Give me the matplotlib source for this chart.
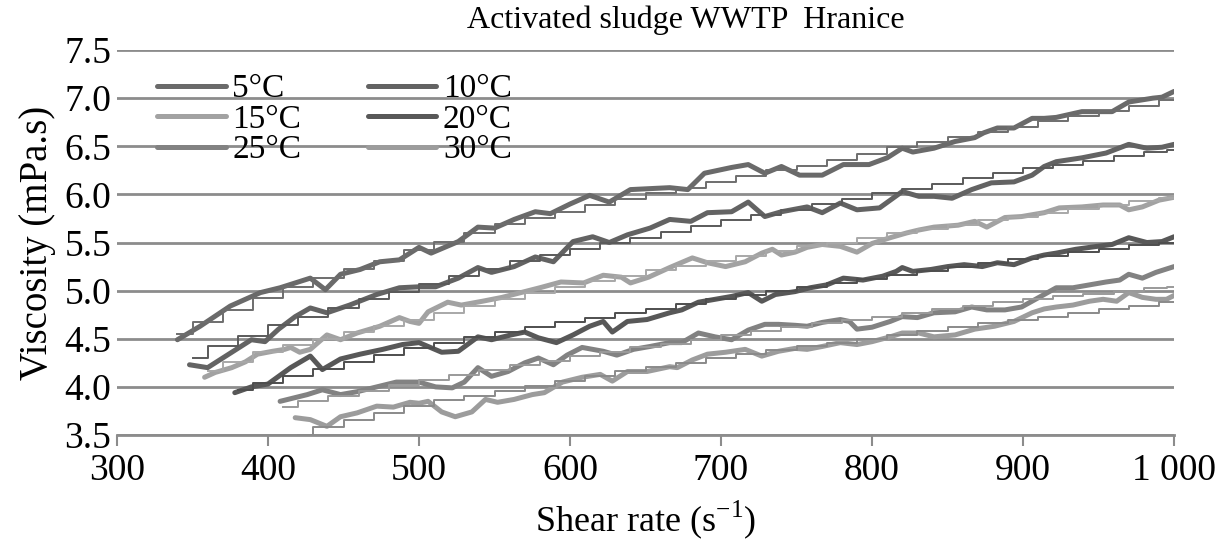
import matplotlib
matplotlib.use("Agg")
import matplotlib.pyplot as plt

plt.rcParams['font.family'] = ['Liberation Serif', 'DejaVu Serif']
plt.rcParams['mathtext.fontset'] = 'custom'
plt.rcParams['mathtext.rm'] = 'Liberation Serif'

# measured viscosity curves (shear rate, mPa.s)
x_5 = [340, 355, 375, 395, 408, 414, 428, 438, 448, 461, 474, 487, 500, 508, 526, 539, 550, 563,
       577, 587, 600, 613, 626, 640, 666, 678, 689, 707, 718, 729, 740, 752, 767, 781, 798, 810,
       820, 827, 841, 855, 868, 874, 883, 894, 906, 914, 922, 939, 959, 970, 986, 992, 1000]
y_5 = [4.49, 4.63, 4.84, 4.98, 5.03, 5.06, 5.13, 5.01, 5.17, 5.22, 5.30, 5.32, 5.45, 5.39, 5.51, 5.66, 5.65, 5.74,
       5.82, 5.80, 5.90, 5.99, 5.92, 6.05, 6.07, 6.05, 6.22, 6.28, 6.31, 6.22, 6.29, 6.20, 6.20, 6.31, 6.31, 6.38,
       6.48, 6.44, 6.48, 6.55, 6.59, 6.64, 6.69, 6.69, 6.79, 6.79, 6.80, 6.86, 6.86, 6.96, 7.00, 7.01, 7.07]

x_10 = [348, 360, 376, 389, 398, 407, 418, 428, 439, 454, 472, 487, 500, 511, 526, 539, 548, 563,
        577, 589, 602, 615, 626, 638, 653, 666, 680, 691, 707, 718, 729, 740, 757, 767, 779, 790,
        805, 820, 831, 841, 853, 866, 879, 894, 906, 914, 922, 939, 955, 970, 982, 992, 1000]
y_10 = [4.23, 4.20, 4.36, 4.49, 4.47, 4.60, 4.73, 4.82, 4.77, 4.85, 4.96, 5.03, 5.04, 5.04, 5.13, 5.24, 5.19, 5.25,
        5.35, 5.30, 5.51, 5.56, 5.50, 5.58, 5.65, 5.74, 5.72, 5.81, 5.82, 5.92, 5.77, 5.82, 5.87, 5.81, 5.91, 5.84,
        5.86, 6.03, 5.98, 5.98, 5.96, 6.05, 6.12, 6.13, 6.20, 6.29, 6.34, 6.38, 6.43, 6.52, 6.48, 6.49, 6.52]

x_15 = [358, 365, 376, 385, 393, 403, 411, 415, 421, 428, 439, 448, 459, 474, 487, 494, 500, 506,
        519, 528, 542, 555, 570, 580, 594, 609, 622, 634, 640, 652, 666, 681, 691, 703, 716, 727,
        734, 740, 749, 757, 767, 779, 790, 800, 812, 823, 831, 841, 857, 868, 876, 888, 899, 914,
        924, 939, 953, 964, 970, 979, 990, 1000]
y_15 = [4.10, 4.15, 4.20, 4.26, 4.34, 4.37, 4.39, 4.41, 4.36, 4.39, 4.54, 4.49, 4.56, 4.63, 4.72, 4.68, 4.66, 4.78,
        4.88, 4.85, 4.89, 4.93, 4.99, 5.03, 5.09, 5.08, 5.16, 5.14, 5.08, 5.14, 5.24, 5.34, 5.29, 5.25, 5.30, 5.39,
        5.43, 5.37, 5.40, 5.45, 5.48, 5.46, 5.40, 5.49, 5.55, 5.60, 5.63, 5.66, 5.68, 5.72, 5.66, 5.76, 5.77, 5.81,
        5.86, 5.87, 5.89, 5.89, 5.84, 5.87, 5.94, 5.97]

x_20 = [378, 389, 400, 415, 428, 436, 448, 461, 476, 489, 500, 506, 515, 526, 539, 548, 561, 570,
        579, 591, 602, 613, 622, 628, 638, 651, 666, 674, 685, 696, 707, 718, 727, 736, 749, 759,
        770, 781, 794, 807, 816, 820, 827, 839, 850, 861, 873, 883, 894, 906, 914, 922, 935, 949,
        959, 970, 982, 992, 1000]
y_20 = [3.94, 4.00, 4.03, 4.20, 4.32, 4.18, 4.29, 4.34, 4.39, 4.44, 4.46, 4.42, 4.36, 4.37, 4.52, 4.49, 4.54, 4.57,
        4.51, 4.46, 4.54, 4.63, 4.68, 4.57, 4.68, 4.70, 4.77, 4.80, 4.88, 4.91, 4.94, 4.98, 4.89, 4.96, 4.99, 5.03,
        5.06, 5.13, 5.11, 5.15, 5.20, 5.24, 5.20, 5.22, 5.25, 5.27, 5.25, 5.29, 5.27, 5.34, 5.37, 5.39, 5.43, 5.46,
        5.48, 5.55, 5.50, 5.51, 5.56]

x_25 = [408, 426, 436, 448, 459, 472, 485, 500, 511, 522, 530, 539, 548, 559, 570, 579, 589, 598,
        608, 622, 631, 642, 653, 666, 674, 685, 696, 707, 718, 729, 738, 749, 757, 767, 779, 785,
        790, 800, 812, 820, 830, 841, 855, 866, 876, 888, 899, 914, 922, 933, 944, 955, 964, 970,
        979, 988, 1000]
y_25 = [3.85, 3.92, 3.97, 3.92, 3.95, 4.00, 4.05, 4.05, 4.00, 3.99, 4.05, 4.20, 4.11, 4.16, 4.25, 4.30, 4.23, 4.33,
        4.41, 4.37, 4.33, 4.39, 4.42, 4.46, 4.46, 4.56, 4.52, 4.49, 4.59, 4.65, 4.65, 4.64, 4.63, 4.67, 4.70, 4.68,
        4.60, 4.62, 4.68, 4.73, 4.72, 4.77, 4.78, 4.83, 4.80, 4.80, 4.83, 4.96, 5.03, 5.03, 5.06, 5.09, 5.11, 5.17,
        5.13, 5.19, 5.25]

x_30 = [418, 428, 439, 448, 459, 472, 483, 494, 500, 506, 515, 524, 535, 544, 552, 563, 575, 583,
        595, 608, 620, 628, 638, 651, 666, 671, 681, 691, 703, 716, 727, 738, 749, 757, 767, 779,
        790, 800, 812, 820, 831, 841, 855, 868, 881, 894, 906, 914, 922, 933, 944, 953, 962, 970,
        979, 988, 995, 1000]
y_30 = [3.68, 3.66, 3.59, 3.69, 3.73, 3.80, 3.79, 3.84, 3.83, 3.85, 3.74, 3.69, 3.74, 3.87, 3.84, 3.87, 3.92, 3.94,
        4.05, 4.10, 4.13, 4.06, 4.16, 4.16, 4.21, 4.20, 4.28, 4.34, 4.36, 4.39, 4.32, 4.37, 4.40, 4.39, 4.42, 4.46,
        4.44, 4.47, 4.52, 4.56, 4.56, 4.52, 4.54, 4.60, 4.63, 4.68, 4.77, 4.81, 4.83, 4.85, 4.89, 4.91, 4.89, 4.98,
        4.93, 4.91, 4.91, 4.95]

# fitted model curves (thin stepped lines)
fx_5 = [340, 360, 380, 400, 420, 440, 460, 480, 500, 520, 540, 560, 580, 600, 620, 640, 660, 680,
        700, 720, 740, 760, 780, 800, 820, 840, 860, 880, 900, 920, 940, 960, 980, 1000]
fy_5 = [4.55, 4.67, 4.80, 4.92, 5.04, 5.13, 5.22, 5.31, 5.42, 5.51, 5.60, 5.69, 5.76, 5.82, 5.89, 5.95, 6.01, 6.07,
        6.13, 6.19, 6.25, 6.30, 6.36, 6.42, 6.49, 6.54, 6.60, 6.65, 6.70, 6.76, 6.81, 6.87, 6.92, 6.98]

fx_10 = [350, 370, 390, 410, 430, 450, 470, 490, 510, 530, 550, 570, 590, 610, 630, 650, 670, 690,
         710, 730, 750, 770, 790, 810, 830, 850, 870, 890, 910, 930, 950, 970, 990, 1000]
fy_10 = [4.30, 4.42, 4.53, 4.64, 4.73, 4.82, 4.91, 4.99, 5.07, 5.15, 5.23, 5.31, 5.37, 5.43, 5.49, 5.55, 5.61, 5.67,
         5.73, 5.79, 5.84, 5.90, 5.95, 6.01, 6.06, 6.11, 6.17, 6.22, 6.27, 6.31, 6.35, 6.40, 6.44, 6.46]

fx_15 = [360, 380, 400, 420, 440, 460, 480, 500, 520, 540, 560, 580, 600, 620, 640, 660, 680, 700,
         720, 740, 760, 780, 800, 820, 840, 860, 880, 900, 920, 940, 960, 980, 1000]
fy_15 = [4.17, 4.26, 4.36, 4.44, 4.50, 4.57, 4.63, 4.70, 4.77, 4.84, 4.91, 4.98, 5.04, 5.10, 5.15, 5.21, 5.26, 5.31,
         5.36, 5.41, 5.46, 5.50, 5.55, 5.60, 5.64, 5.68, 5.73, 5.77, 5.81, 5.85, 5.89, 5.93, 5.96]

fx_20 = [380, 400, 420, 440, 460, 480, 500, 520, 540, 560, 580, 600, 620, 640, 660, 680, 700, 720,
         740, 760, 780, 800, 820, 840, 860, 880, 900, 920, 940, 960, 980, 1000]
fy_20 = [3.97, 4.04, 4.11, 4.19, 4.26, 4.33, 4.40, 4.46, 4.52, 4.57, 4.62, 4.67, 4.72, 4.77, 4.81, 4.86, 4.91, 4.95,
         5.00, 5.04, 5.08, 5.12, 5.16, 5.20, 5.25, 5.29, 5.33, 5.36, 5.40, 5.43, 5.47, 5.50]

fx_25 = [410, 430, 450, 470, 490, 510, 530, 550, 570, 590, 610, 630, 650, 670, 690, 710, 730, 750,
         770, 790, 810, 830, 850, 870, 890, 910, 930, 950, 970, 990, 1000]
fy_25 = [3.79, 3.85, 3.91, 3.96, 4.02, 4.07, 4.12, 4.18, 4.23, 4.27, 4.32, 4.36, 4.41, 4.45, 4.49, 4.54, 4.58, 4.62,
         4.66, 4.70, 4.73, 4.77, 4.81, 4.84, 4.88, 4.91, 4.94, 4.97, 5.00, 5.03, 5.04]

fx_30 = [420, 440, 460, 480, 500, 520, 540, 560, 580, 600, 620, 640, 660, 680, 700, 720, 740, 760,
         780, 800, 820, 840, 860, 880, 900, 920, 940, 960, 980, 1000]
fy_30 = [3.50, 3.58, 3.66, 3.73, 3.80, 3.86, 3.91, 3.96, 4.01, 4.06, 4.11, 4.16, 4.21, 4.25, 4.30, 4.34, 4.38, 4.42,
         4.46, 4.50, 4.54, 4.58, 4.62, 4.66, 4.70, 4.73, 4.77, 4.81, 4.84, 4.88]

labels = ["5°C", "10°C", "15°C", "20°C", "25°C", "30°C"]
xticks = [300, 400, 500, 600, 700, 800, 900, 1000]
xtick_labels = ["300", "400", "500", "600", "700", "800", "900", "1 000"]
yticks = [3.5, 4.0, 4.5, 5.0, 5.5, 6.0, 6.5, 7.0, 7.5]

measured = [(x_5, y_5), (x_10, y_10), (x_15, y_15), (x_20, y_20), (x_25, y_25), (x_30, y_30)]
fitted = [(fx_5, fy_5), (fx_10, fy_10), (fx_15, fy_15), (fx_20, fy_20), (fx_25, fy_25), (fx_30, fy_30)]
colors = ["#6a6a6a", "#636363", "#a2a2a2", "#585858", "#828282", "#9c9c9c"]
fit_colors = ["#6e6e6e", "#5a5a5a", "#a8a8a8", "#4e4e4e", "#9a9a9a", "#8a8a8a"]

fig = plt.figure(figsize=(12.24, 5.45), dpi=100)
ax = fig.add_axes([0.0956, 0.2018, 0.8636, 0.7064])

for yt in yticks:
    ax.axhline(yt, color="#8c8c8c", lw=2.0, zorder=1)

handles = []
for (mx, my), col, lab in zip(measured, colors, labels):
    h, = ax.plot(mx, my, color=col, lw=3.6, solid_joinstyle="round",
                 solid_capstyle="round", label=lab, zorder=3)
    handles.append(h)

for (fx, fy), col in zip(fitted, fit_colors):
    ax.step(fx, fy, where="mid", color=col, lw=1.4, zorder=4)

ax.set_xlim(300, 1000)
ax.set_ylim(3.5, 7.5)
ax.set_xticks(xticks)
ax.set_xticklabels(xtick_labels)
ax.set_yticks(yticks)
ax.set_yticklabels([f"{v:.1f}" for v in yticks])

for side in ["top", "right", "left"]:
    ax.spines[side].set_visible(False)
ax.spines["bottom"].set_color("#8c8c8c")
ax.spines["bottom"].set_linewidth(2.0)
ax.spines["bottom"].set_zorder(1)

ax.tick_params(axis="x", direction="out", length=8, width=1.5, color="#8c8c8c",
               labelsize=27, pad=5)
ax.tick_params(axis="y", length=0, labelsize=27, pad=4)

ax.set_xlabel(r"Shear rate (s$^{\mathrm{-1}}$)", fontsize=26, labelpad=8)
ax.set_ylabel("Viscosity (mPa.s)", fontsize=28, labelpad=6)
fig.text(0.56, 0.962, "Activated sludge WWTP  Hranice", ha="center", va="center", fontsize=23)

order = [0, 2, 4, 1, 3, 5]
ax.legend([handles[i] for i in order], [labels[i] for i in order], ncol=2, frameon=False,
          loc="upper left", bbox_to_anchor=(0.038, 0.938), fontsize=24, handlelength=2.05,
          handletextpad=0.2, columnspacing=2.0, labelspacing=0.0, borderaxespad=0,
          borderpad=0)

fig.savefig("out.png", dpi=100)
